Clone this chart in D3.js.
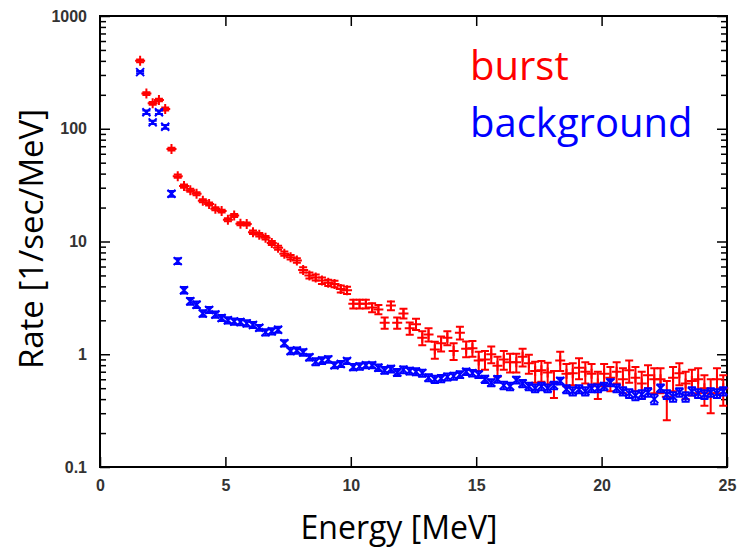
<!DOCTYPE html>
<html>
<head>
<meta charset="utf-8">
<script src="https://cdn.jsdelivr.net/npm/d3@7"></script>
<style>
  html, body { margin: 0; padding: 0; background: #fff; }
  svg { display: block; }
</style>
</head>
<body>
<script>
// ---------------- data ----------------
const energy = [
  1.6,1.85,2.1,2.35,2.6,2.85,3.1,3.35,3.6,3.85,
  4.1,4.35,4.6,4.85,5.1,5.35,5.6,5.85,6.1,6.35,
  6.6,6.85,7.1,7.35,7.6,7.85,8.1,8.35,8.6,8.85,
  9.1,9.35,9.6,9.85,10.1,10.35,10.6,10.85,11.1,11.35,
  11.6,11.85,12.1,12.35,12.6,12.85,13.1,13.35,13.6,13.85,
  14.1,14.35,14.6,14.85,15.1,15.35,15.6,15.85,16.1,16.35,
  16.6,16.85,17.1,17.35,17.6,17.85,18.1,18.35,18.6,18.85,
  19.1,19.35,19.6,19.85,20.1,20.35,20.6,20.85,21.1,21.35,
  21.6,21.85,22.1,22.35,22.6,22.85,23.1,23.35,23.6,23.85,
  24.1,24.35,24.6,24.85
];

const burstRate = [
  400,205,168,180,150,66,38,31,28.5,26.5,
  23,21.5,19.5,18.6,15.6,17,14.4,14.3,12.1,11.5,
  10.8,9.7,8.8,7.8,7.25,6.8,5.6,5.0,4.8,4.5,
  4.3,4.2,3.8,3.7,2.8,2.8,2.8,2.6,2.5,1.9,
  2.7,1.9,2.3,1.7,1.85,1.4,1.5,1.1,1.25,1.4,
  1.07,1.55,1.12,1.13,0.88,0.9,1.0,0.79,0.9,0.85,
  0.85,0.95,0.83,0.71,0.72,0.69,0.56,0.88,0.67,0.68,
  0.76,0.7,0.67,0.55,0.67,0.62,0.7,0.6,0.72,0.62,
  0.55,0.65,0.6,0.6,0.42,0.62,0.68,0.55,0.58,0.6,
  0.5,0.45,0.6,0.5
];

const burstErr = [
  12,6,5,5,4.5,2,1.2,1,0.9,0.8,
  0.7,0.65,0.6,0.55,0.5,0.5,0.45,0.45,0.42,0.42,
  0.4,0.38,0.36,0.34,0.33,0.32,0.3,0.3,0.3,0.3,
  0.28,0.28,0.27,0.27,0.25,0.25,0.25,0.24,0.24,0.22,
  0.24,0.22,0.23,0.21,0.21,0.2,0.2,0.19,0.19,0.2,
  0.18,0.2,0.18,0.18,0.17,0.17,0.17,0.16,0.17,0.16,
  0.16,0.17,0.16,0.15,0.15,0.15,0.15,0.17,0.15,0.15,
  0.16,0.15,0.15,0.15,0.15,0.15,0.15,0.15,0.16,0.15,
  0.15,0.15,0.15,0.15,0.16,0.15,0.15,0.15,0.15,0.15,
  0.15,0.15,0.15,0.15
];

const backgroundRate = [
  318,140,114,140,104,26.5,6.7,3.7,2.95,2.75,
  2.3,2.47,2.25,2.1,2.0,1.95,1.93,1.88,1.82,1.72,
  1.57,1.6,1.65,1.25,1.07,1.08,1.04,0.94,0.86,0.88,
  0.9,0.8,0.82,0.87,0.77,0.78,0.8,0.8,0.76,0.72,
  0.74,0.69,0.73,0.71,0.7,0.68,0.62,0.6,0.61,0.63,
  0.64,0.66,0.7,0.68,0.66,0.6,0.56,0.6,0.53,0.52,
  0.59,0.55,0.52,0.5,0.52,0.5,0.53,0.58,0.49,0.47,
  0.49,0.47,0.5,0.5,0.52,0.56,0.5,0.47,0.45,0.43,
  0.44,0.46,0.4,0.5,0.44,0.42,0.46,0.42,0.47,0.45,
  0.44,0.46,0.45,0.47
];

const backgroundErr = [
  8,5,4,5,4,1.5,0.4,0.25,0.2,0.18,
  0.15,0.15,0.14,0.13,0.13,0.12,0.12,0.12,0.11,0.1,
  0.1,0.1,0.1,0.08,0.07,0.07,0.07,0.06,0.06,0.06,
  0.06,0.05,0.05,0.05,0.05,0.05,0.05,0.05,0.05,0.05,
  0.05,0.05,0.05,0.05,0.05,0.05,0.045,0.045,0.045,0.045,
  0.045,0.045,0.045,0.045,0.045,0.045,0.04,0.04,0.04,0.04,
  0.04,0.04,0.04,0.04,0.04,0.04,0.04,0.04,0.04,0.04,
  0.04,0.04,0.04,0.04,0.04,0.04,0.04,0.04,0.04,0.04,
  0.04,0.04,0.04,0.04,0.04,0.04,0.04,0.04,0.04,0.04,
  0.04,0.04,0.04,0.04
];

const xTicks = [0, 5, 10, 15, 20, 25];
const yTicks = [0.1, 1, 10, 100, 1000];
const yTickLabels = ["0.1", "1", "10", "100", "1000"];
const seriesNames = ["burst", "background"];
const xTitle = "Energy [MeV]";
const yTitle = "Rate [1/sec/MeV]";

// ---------------- chart ----------------
const W = 740, H = 550;
const pLeft = 100, pRight = 727, pTop = 16, pBottom = 467;
const RED = "#ff0000", BLUE = "#0000ff";

const svg = d3.select("body").append("svg").attr("width", W).attr("height", H);

const x = d3.scaleLinear().domain([0, 25]).range([pLeft, pRight]);
const y = d3.scaleLog().domain([0.1, 1000]).range([pBottom, pTop]);

const minorY = [];
[0.1, 1, 10, 100].forEach(d => { for (let k = 2; k <= 9; k++) minorY.push(d * k); });

const tickFont = "'Liberation Sans', Arial, sans-serif";

function styleAxis(g) {
  g.select(".domain").remove();
  g.selectAll(".tick line").attr("stroke", "#000").attr("stroke-width", 1.5);
  g.selectAll(".tick text").attr("fill", "#333").style("font-family", tickFont)
    .style("font-size", "16px").style("font-weight", "bold");
}

svg.append("g").attr("transform", `translate(0,${pBottom})`)
  .call(d3.axisBottom(x).tickValues(xTicks).tickFormat(d3.format("d")).tickSizeInner(-10).tickSizeOuter(0).tickPadding(13))
  .call(styleAxis);
svg.append("g").attr("transform", `translate(0,${pTop})`)
  .call(d3.axisTop(x).tickValues(xTicks.slice(1, -1)).tickFormat("").tickSizeInner(-10).tickSizeOuter(0))
  .call(styleAxis);
svg.append("g").attr("transform", `translate(${pLeft},0)`)
  .call(d3.axisLeft(y).tickValues(yTicks).tickFormat((d, i) => yTickLabels[i]).tickSizeInner(-10).tickSizeOuter(0).tickPadding(13))
  .call(styleAxis);
svg.append("g").attr("transform", `translate(${pLeft},0)`)
  .call(d3.axisLeft(y).tickValues(minorY).tickFormat("").tickSizeInner(-6).tickSizeOuter(0))
  .call(styleAxis);
svg.append("g").attr("transform", `translate(${pRight},0)`)
  .call(d3.axisRight(y).tickValues(yTicks).tickFormat("").tickSizeInner(-10).tickSizeOuter(0))
  .call(styleAxis);
svg.append("g").attr("transform", `translate(${pRight},0)`)
  .call(d3.axisRight(y).tickValues(minorY).tickFormat("").tickSizeInner(-6).tickSizeOuter(0))
  .call(styleAxis);

svg.append("rect").attr("x", pLeft).attr("y", pTop).attr("width", pRight - pLeft).attr("height", pBottom - pTop)
  .attr("fill", "none").attr("stroke", "#000").attr("stroke-width", 2);

function drawSeries(rates, errs, color, marker) {
  const data = energy.map((e, i) => ({ e, v: rates[i], s: errs[i] }));
  const g = svg.append("g").attr("stroke", color).attr("stroke-width", 2).attr("fill", "none");
  const cap = 4, m = marker === "plus" ? 5 : 4;
  const pts = g.selectAll("g.pt").data(data).join("g").attr("class", "pt");
  pts.append("path").attr("d", d => {
    const cx = x(d.e), lo = y(Math.max(d.v - d.s, 0.1)), hi = y(d.v + d.s);
    return `M${cx},${lo}V${hi}M${cx - cap},${lo}H${cx + cap}M${cx - cap},${hi}H${cx + cap}`;
  });
  pts.append("path").attr("d", d => {
    const cx = x(d.e), cy = y(d.v);
    if (marker === "plus") return `M${cx - m},${cy}H${cx + m}M${cx},${cy - m}V${cy + m}`;
    return `M${cx - m},${cy - m}L${cx + m},${cy + m}M${cx - m},${cy + m}L${cx + m},${cy - m}`;
  });
}
drawSeries(burstRate, burstErr, RED, "plus");
drawSeries(backgroundRate, backgroundErr, BLUE, "cross");

const titleFont = "'Open Sans', 'Noto Sans', sans-serif";
svg.append("text").attr("x", 470).attr("y", 80).attr("fill", RED)
  .style("font-family", titleFont).style("font-size", "40px").text(seriesNames[0]);
svg.append("text").attr("x", 470).attr("y", 137).attr("fill", BLUE)
  .style("font-family", titleFont).style("font-size", "40px").text(seriesNames[1]);

svg.append("text").attr("x", 399).attr("y", 539).attr("text-anchor", "middle").attr("fill", "#000")
  .style("font-family", titleFont).style("font-size", "32px").text(xTitle);
svg.append("text").attr("transform", "translate(43,239) rotate(-90)").attr("text-anchor", "middle").attr("fill", "#000")
  .style("font-family", titleFont).style("font-size", "33px").text(yTitle);
</script>
</body>
</html>
